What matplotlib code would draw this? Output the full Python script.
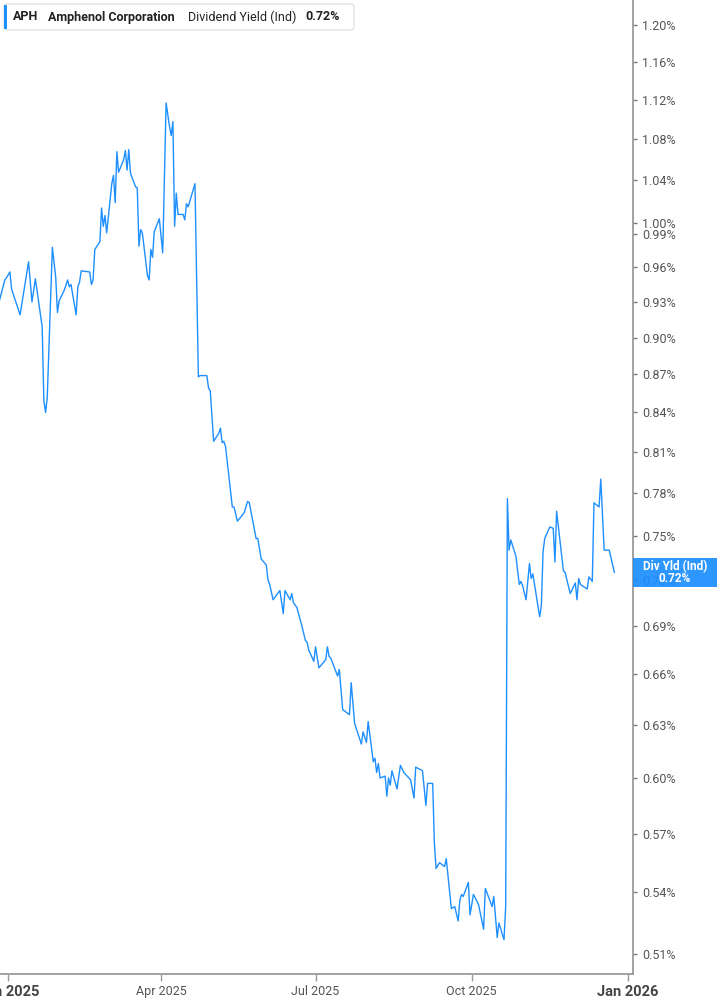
import datetime as dt
import matplotlib
matplotlib.use("Agg")
import matplotlib.pyplot as plt
import matplotlib.dates as mdates
from matplotlib.patches import FancyBboxPatch, Rectangle
from matplotlib.ticker import FixedLocator, NullLocator

plt.rcParams['font.family'] = ['Roboto', 'DejaVu Sans']

# dividend yield (%)
dates = [
    "2024-12-27", "2024-12-30", "2024-12-31", "2025-01-02", "2025-01-03", "2025-01-08",
    "2025-01-13", "2025-01-15", "2025-01-17", "2025-01-21", "2025-01-22", "2025-01-23",
    "2025-01-24", "2025-01-27", "2025-01-29", "2025-01-30", "2025-01-31", "2025-02-03",
    "2025-02-05", "2025-02-06", "2025-02-07", "2025-02-10", "2025-02-11", "2025-02-12",
    "2025-02-13", "2025-02-18", "2025-02-19", "2025-02-20", "2025-02-21", "2025-02-24",
    "2025-02-25", "2025-02-26", "2025-02-27", "2025-02-28", "2025-03-03", "2025-03-04",
    "2025-03-05", "2025-03-06", "2025-03-07", "2025-03-10", "2025-03-11", "2025-03-12",
    "2025-03-13", "2025-03-14", "2025-03-17", "2025-03-18", "2025-03-19", "2025-03-20",
    "2025-03-21", "2025-03-24", "2025-03-25", "2025-03-26", "2025-03-27", "2025-03-28",
    "2025-03-31", "2025-04-02", "2025-04-04", "2025-04-06", "2025-04-07", "2025-04-08",
    "2025-04-09", "2025-04-10", "2025-04-11", "2025-04-14", "2025-04-15", "2025-04-16",
    "2025-04-17", "2025-04-21", "2025-04-23", "2025-04-24", "2025-04-25", "2025-04-28",
    "2025-04-29", "2025-04-30", "2025-05-02", "2025-05-05", "2025-05-06", "2025-05-07",
    "2025-05-08", "2025-05-09", "2025-05-13", "2025-05-14", "2025-05-16", "2025-05-20",
    "2025-05-22", "2025-05-23", "2025-05-27", "2025-05-28", "2025-05-30", "2025-06-02",
    "2025-06-03", "2025-06-04", "2025-06-06", "2025-06-10", "2025-06-12", "2025-06-13",
    "2025-06-16", "2025-06-17", "2025-06-18", "2025-06-20", "2025-06-23", "2025-06-25",
    "2025-06-26", "2025-06-27", "2025-06-30", "2025-07-01", "2025-07-03", "2025-07-07",
    "2025-07-08", "2025-07-09", "2025-07-10", "2025-07-14", "2025-07-15", "2025-07-17",
    "2025-07-21", "2025-07-22", "2025-07-24", "2025-07-28", "2025-07-29", "2025-07-31",
    "2025-08-01", "2025-08-04", "2025-08-05", "2025-08-06", "2025-08-07", "2025-08-08",
    "2025-08-11", "2025-08-12", "2025-08-13", "2025-08-14", "2025-08-15", "2025-08-18",
    "2025-08-20", "2025-08-22", "2025-08-26", "2025-08-28", "2025-08-29", "2025-09-02",
    "2025-09-04", "2025-09-05", "2025-09-08", "2025-09-09", "2025-09-10", "2025-09-12",
    "2025-09-15", "2025-09-16", "2025-09-19", "2025-09-21", "2025-09-23", "2025-09-24",
    "2025-09-25", "2025-09-26", "2025-09-29", "2025-09-30", "2025-10-02", "2025-10-05",
    "2025-10-08", "2025-10-09", "2025-10-13", "2025-10-14", "2025-10-16", "2025-10-17",
    "2025-10-20", "2025-10-21", "2025-10-22", "2025-10-23", "2025-10-24", "2025-10-27",
    "2025-10-29", "2025-10-30", "2025-10-31", "2025-11-02", "2025-11-04", "2025-11-05",
    "2025-11-06", "2025-11-10", "2025-11-11", "2025-11-12", "2025-11-13", "2025-11-16",
    "2025-11-18", "2025-11-19", "2025-11-20", "2025-11-24", "2025-11-25", "2025-11-28",
    "2025-12-01", "2025-12-02", "2025-12-03", "2025-12-04", "2025-12-08", "2025-12-09",
    "2025-12-11", "2025-12-12", "2025-12-15", "2025-12-16", "2025-12-18", "2025-12-21",
    "2025-12-24",
]
yields = [
    0.932, 0.949, 0.951, 0.956, 0.941, 0.919,
    0.965, 0.930, 0.950, 0.909, 0.849, 0.840,
    0.852, 0.978, 0.951, 0.921, 0.931, 0.940,
    0.949, 0.943, 0.945, 0.919, 0.943, 0.947,
    0.957, 0.956, 0.945, 0.949, 0.976, 0.983,
    1.014, 0.997, 1.007, 0.991, 1.037, 1.045,
    1.019, 1.068, 1.048, 1.060, 1.069, 1.050,
    1.070, 1.047, 1.034, 1.033, 0.979, 0.994,
    0.991, 0.953, 0.949, 0.976, 0.969, 0.992,
    1.004, 0.973, 1.117, 1.093, 1.084, 1.098,
    0.997, 1.028, 1.008, 1.008, 1.003, 1.018,
    1.015, 1.037, 0.868, 0.869, 0.869, 0.869,
    0.859, 0.857, 0.818, 0.824, 0.828, 0.817,
    0.818, 0.814, 0.770, 0.770, 0.760, 0.766,
    0.774, 0.773, 0.748, 0.748, 0.734, 0.730,
    0.720, 0.717, 0.707, 0.713, 0.698, 0.713,
    0.707, 0.711, 0.705, 0.702, 0.690, 0.681,
    0.680, 0.675, 0.668, 0.677, 0.664, 0.669,
    0.677, 0.671, 0.670, 0.659, 0.663, 0.639,
    0.636, 0.655, 0.631, 0.619, 0.626, 0.620,
    0.632, 0.609, 0.611, 0.603, 0.608, 0.600,
    0.601, 0.590, 0.600, 0.596, 0.604, 0.594,
    0.607, 0.603, 0.599, 0.589, 0.606, 0.604,
    0.585, 0.597, 0.597, 0.565, 0.552, 0.555,
    0.553, 0.557, 0.532, 0.533, 0.526, 0.536,
    0.539, 0.538, 0.545, 0.529, 0.539, 0.534,
    0.522, 0.542, 0.533, 0.538, 0.518, 0.525,
    0.517, 0.533, 0.776, 0.740, 0.747, 0.736,
    0.717, 0.719, 0.716, 0.707, 0.731, 0.721,
    0.724, 0.696, 0.703, 0.739, 0.748, 0.756,
    0.755, 0.732, 0.767, 0.726, 0.725, 0.711,
    0.718, 0.707, 0.721, 0.717, 0.714, 0.722,
    0.719, 0.773, 0.770, 0.790, 0.740, 0.740,
    0.725,
]

y_ticks = [0.51, 0.54, 0.57, 0.60, 0.63, 0.66, 0.69, 0.72, 0.75, 0.78, 0.81, 0.84,
           0.87, 0.90, 0.93, 0.96, 0.99, 1.00, 1.04, 1.08, 1.12, 1.16, 1.20]
x_ticks = ["2025-01-01", "2025-04-01", "2025-07-01", "2025-10-01", "2026-01-01"]
x_labels = ["Jan 2025", "Apr 2025", "Jul 2025", "Oct 2025", "Jan 2026"]

ticker = "APH"
company = "Amphenol Corporation"
metric = "Dividend Yield (Ind)"
last_value = "0.72%"

line_color = "#1E8FFF"
axis_color = "#9a9a9a"
label_color = "#555555"

dts = [dt.datetime.strptime(d, "%Y-%m-%d") for d in dates]

fig = plt.figure(figsize=(7.17, 10.05), dpi=100)
ax = fig.add_axes([0.0, 0.0308, 0.8824, 0.9692])

ax.plot(dts, yields, color=line_color, lw=1.0)

ax.set_yscale("log")
ax.set_ylim(0.5009, 1.228)
ax.set_xlim(dt.datetime(2024, 12, 27, 4), dt.datetime(2026, 1, 3, 19))

# right hand y axis
ax.yaxis.tick_right()
ax.yaxis.set_major_locator(FixedLocator(y_ticks))
ax.yaxis.set_minor_locator(NullLocator())
ax.set_yticklabels([f"{v:.2f}%" for v in y_ticks])
ax.tick_params(axis="y", which="major", length=3, width=1, color="#777777",
               labelcolor=label_color, labelsize=9, pad=4)

xt = [mdates.date2num(dt.datetime.strptime(d, "%Y-%m-%d")) for d in x_ticks]
ax.set_xticks(xt)
ax.set_xticklabels(x_labels)
ax.tick_params(axis="x", length=5, width=1, color=axis_color, labelcolor=label_color,
               labelsize=9, pad=3)
for lab in ax.get_xticklabels():
    if lab.get_text().startswith("Jan"):
        lab.set_fontweight("bold")
        lab.set_fontsize(10.5)
        lab.set_color("#444444")

for s in ["top", "left"]:
    ax.spines[s].set_visible(False)
for s in ["bottom", "right"]:
    ax.spines[s].set_color(axis_color)
    ax.spines[s].set_linewidth(1.3)

# current value tag on the axis
tag = Rectangle((633 / 717, (1005 - 587) / 1005), 84 / 717, 29 / 1005,
                transform=fig.transFigure, facecolor=line_color, alpha=0.93,
                edgecolor="none", zorder=5)
fig.patches.append(tag)
fig.text(675 / 717, (1005 - 566.5) / 1005, "Div Yld (Ind)", color="white",
         fontsize=8.5, fontweight="bold", ha="center", va="center", zorder=6)
fig.text(675 / 717, (1005 - 578.5) / 1005, last_value, color="white",
         fontsize=8.5, fontweight="bold", ha="center", va="center", zorder=6)

# legend box top left
box = FancyBboxPatch((4 / 717, (1005 - 30) / 1005), 350 / 717, 26 / 1005,
                     boxstyle="round,pad=0,rounding_size=0.004",
                     transform=fig.transFigure, facecolor="white",
                     edgecolor="#e3e3e3", lw=1, zorder=5)
fig.patches.append(box)
bar = Rectangle((4 / 717, (1005 - 29) / 1005), 3 / 717, 24 / 1005,
                transform=fig.transFigure, facecolor=line_color,
                edgecolor="none", zorder=6)
fig.patches.append(bar)
ty = (1005 - 17) / 1005
fig.text(13 / 717, ty, ticker, fontsize=9, fontweight="bold", color="#222222",
         va="center", zorder=7)
fig.text(48 / 717, ty, company, fontsize=9, fontweight="bold", color="#222222",
         va="center", zorder=7)
fig.text(188 / 717, ty, metric, fontsize=9, color="#222222", va="center", zorder=7)
fig.text(305 / 717, ty, last_value, fontsize=9, fontweight="bold", color="#222222",
         va="center", zorder=7)

fig.savefig("out.png", dpi=100)
